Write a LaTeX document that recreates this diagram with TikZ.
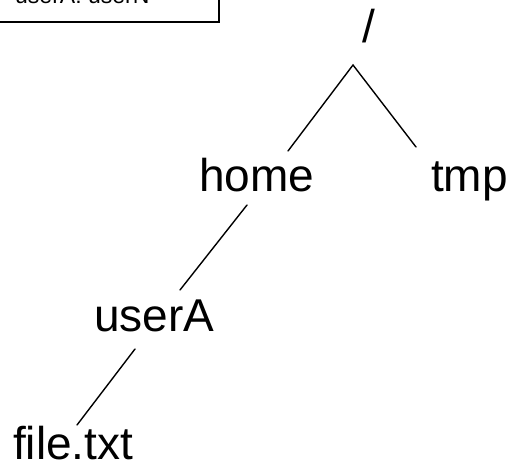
\documentclass[tikz,border=0pt]{standalone}
\usepackage{fontspec}
\setmainfont{Liberation Sans}
\begin{document}
\begin{tikzpicture}[x=1pt,y=-1pt,
  lbl/.style={anchor=base west,inner sep=0pt,font=\fontsize{46}{50}\selectfont},
  edge/.style={line width=1.4pt,line cap=round}]
\useasboundingbox (0,0) rectangle (513,465);
\clip (0,0) rectangle (513,465);
% clipped legend box
\draw[line width=2.2pt] (-20,-40) rectangle (219,22);
\node[anchor=base west,inner sep=0pt,font=\fontsize{23}{26}\selectfont] (legend) at (15,4) {userA: userN};
% nodes
\node[lbl] (root) at (362,43) {/};
\node[lbl] (home) at (199,191) {home};
\node[lbl] (tmp) at (431,191) {tmp};
\node[lbl] (userA) at (94,331) {userA};
\node[lbl] (file) at (13,459) {file.txt};
% connector end points
\coordinate (apex) at (353,65);
\coordinate (homeT) at (288,151);
\coordinate (tmpT) at (416,147);
\coordinate (homeB) at (247,205);
\coordinate (userT) at (180,290);
\coordinate (userB) at (135,349);
\coordinate (fileT) at (77,425);
\draw[edge] (homeT) -- (apex) -- (tmpT);
\draw[edge] (homeB) -- (userT);
\draw[edge] (userB) -- (fileT);
\end{tikzpicture}
\end{document}
